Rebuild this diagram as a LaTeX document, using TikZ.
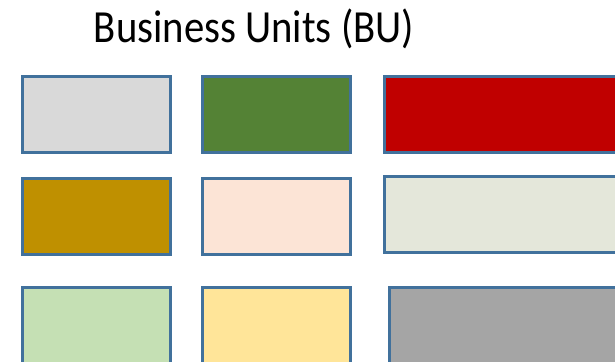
\documentclass[tikz,border=0pt]{standalone}
\usepackage{fontspec}
\setmainfont{Carlito}
\definecolor{bord}{HTML}{41719C}
\definecolor{cA}{HTML}{D9D9D9}
\definecolor{cB}{HTML}{548235}
\definecolor{cC}{HTML}{C00000}
\definecolor{cD}{HTML}{BF9000}
\definecolor{cE}{HTML}{FCE4D6}
\definecolor{cF}{HTML}{E4E7DA}
\definecolor{cG}{HTML}{C5E0B4}
\definecolor{cH}{HTML}{FFE599}
\definecolor{cI}{HTML}{A5A5A5}
\begin{document}
\begin{tikzpicture}[x=1pt,y=-1pt,
  unitbox/.style={draw=bord,line width=2.5pt,inner sep=0pt,anchor=north west,minimum height=76pt}]
\useasboundingbox (0,0) rectangle (615,361);
\clip (0,0) rectangle (615,361);
\node[font=\fontsize{46}{50}\selectfont,anchor=base,xscale=0.885] (title) at (254,43) {Business Units (BU)};
\node[unitbox,fill=cA,minimum width=148pt] (b11) at (21,75) {};
\node[unitbox,fill=cB,minimum width=148pt] (b12) at (201,75) {};
\node[unitbox,fill=cC,minimum width=260pt] (b13) at (383,75) {};
\node[unitbox,fill=cD,minimum width=148pt] (b21) at (21,177) {};
\node[unitbox,fill=cE,minimum width=148pt] (b22) at (201,177) {};
\node[unitbox,fill=cF,minimum width=260pt] (b23) at (383,175) {};
\node[unitbox,fill=cG,minimum width=148pt] (b31) at (21,286) {};
\node[unitbox,fill=cH,minimum width=148pt] (b32) at (201,286) {};
\node[unitbox,fill=cI,minimum width=260pt] (b33) at (388,286) {};
\end{tikzpicture}
\end{document}
